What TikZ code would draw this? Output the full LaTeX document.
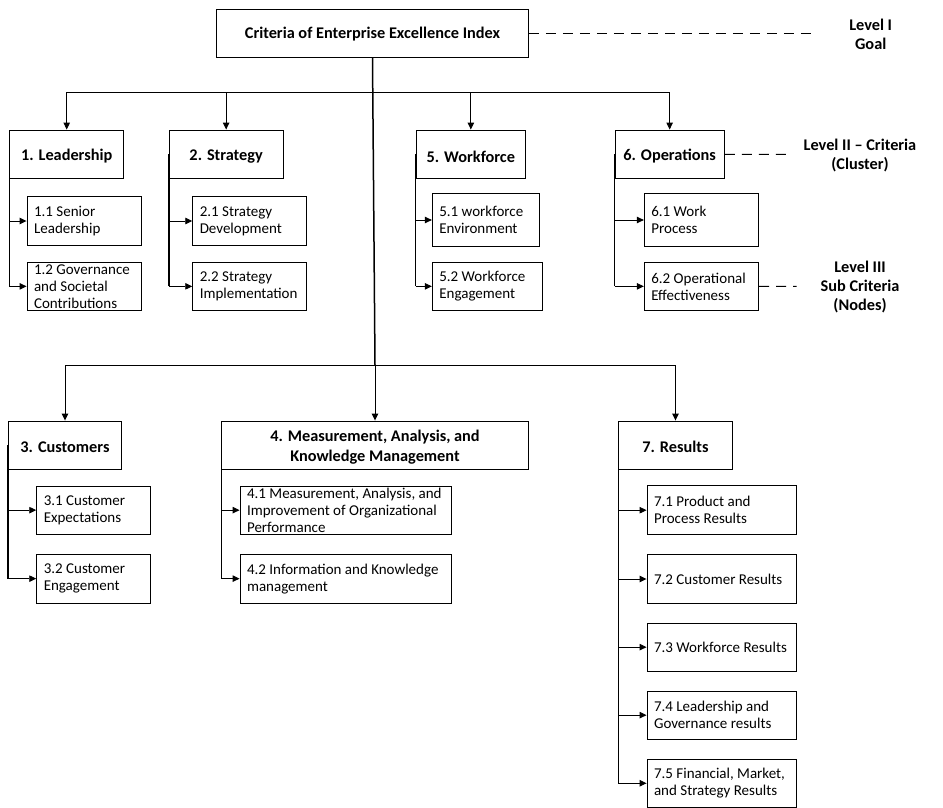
\documentclass[tikz,border=0pt]{standalone}
\usepackage{fontspec}
\setmainfont{Carlito}
\usetikzlibrary{arrows.meta}
\newcommand\mkbox[5]{\node[box, minimum width={#4-#2}, minimum height={#5-#3}] (#1) at ({(#2+#4)/2},{(#3+#5)/2}) {};}
\begin{document}
\begin{tikzpicture}[x=1pt,y=-1pt,
  box/.style={draw, line width=0.9pt, inner sep=0pt},
  lv2/.style={inner sep=0pt, align=center, font=\fontsize{16.3}{20}\selectfont\bfseries},
  lvl/.style={inner sep=0pt, align=center, font=\fontsize{16.3}{19}\selectfont\bfseries},
  sub/.style={anchor=west, inner sep=0pt, align=left, font=\fontsize{15}{17}\selectfont},
  arr/.style={line width=0.9pt, -{Triangle[length=7pt,width=6.5pt]}},
  thinline/.style={line width=0.9pt},
  spine/.style={line width=1.5pt},
  dashline/.style={line width=0.9pt, dash pattern=on 10pt off 7pt}]
\useasboundingbox (0,0) rectangle (943,808);
% boxes
\mkbox{top}{216.7}{9}{528.3}{57.3}
\mkbox{lead}{9.7}{130}{123.7}{178.7}
\mkbox{strat}{169.3}{130}{283}{178.7}
\mkbox{work}{416}{130}{525.7}{178.7}
\mkbox{ops}{615}{130}{724.3}{178.7}
\mkbox{s11}{27}{196.7}{141}{245.3}
\mkbox{s12}{27}{262}{141}{310.7}
\mkbox{s21}{192.7}{196.7}{306.3}{245.3}
\mkbox{s22}{192.7}{262}{306.3}{310.7}
\mkbox{s51}{432.3}{193.7}{539.3}{246.3}
\mkbox{s52}{432.3}{262}{542.3}{310.7}
\mkbox{s61}{644.3}{193.7}{758.7}{246.3}
\mkbox{s62}{644.3}{262}{758.7}{310.7}
\mkbox{cust}{8.3}{421}{121.7}{469.3}
\mkbox{meas}{221.7}{421}{528.3}{469.3}
\mkbox{res}{618.7}{421}{732.3}{469.3}
\mkbox{s31}{36.7}{486}{150.3}{534.3}
\mkbox{s32}{36.7}{554.3}{150.3}{603}
\mkbox{s41}{240}{486}{451.7}{534.3}
\mkbox{s42}{240}{554.3}{451.7}{603}
\mkbox{s71}{647}{485.7}{796.3}{534.7}
\mkbox{s72}{647}{554.7}{796.3}{603.3}
\mkbox{s73}{647}{623}{796.3}{671.3}
\mkbox{s74}{647}{691}{796.3}{739.3}
\mkbox{s75}{647}{759.3}{796.3}{807.2}
% texts
\node[lv2] (topT) at ([yshift=-1pt]top) {Criteria of Enterprise Excellence Index};
\node[lv2] (leadT) at ([yshift=-2pt]lead) {1. Leadership};
\node[lv2] (stratT) at ([yshift=-2pt]strat) {2. Strategy};
\node[lv2] (workT) at ([yshift=-2pt]work) {5. Workforce};
\node[lv2] (opsT) at ([yshift=-2pt]ops) {6. Operations};
\node[lv2] (custT) at ([yshift=-2pt]cust) {3. Customers};
\node[lv2] (measT) at ([yshift=-2.5pt]meas) {4. Measurement, Analysis, and\\Knowledge Management};
\node[lv2] (resT) at ([yshift=-2pt]res) {7. Results};
\node[sub] (s11T) at ([xshift=7.3pt]s11.west) {1.1 Senior\\Leadership};
\node[sub] (s12T) at ([xshift=7.3pt]s12.west) {1.2 Governance\\and Societal\\Contributions};
\node[sub] (s21T) at ([xshift=7.3pt]s21.west) {2.1 Strategy\\Development};
\node[sub] (s22T) at ([xshift=7.3pt]s22.west) {2.2 Strategy\\Implementation};
\node[sub] (s51T) at ([xshift=7.3pt]s51.west) {5.1 workforce\\Environment};
\node[sub] (s52T) at ([xshift=7.3pt]s52.west) {5.2 Workforce\\Engagement};
\node[sub] (s61T) at ([xshift=7.3pt]s61.west) {6.1 Work\\Process};
\node[sub] (s62T) at ([xshift=7.3pt]s62.west) {6.2 Operational\\Effectiveness};
\node[sub] (s31T) at ([xshift=7.3pt]s31.west) {3.1 Customer\\Expectations};
\node[sub] (s32T) at ([xshift=7.3pt]s32.west) {3.2 Customer\\Engagement};
\node[sub] (s41T) at ([xshift=7.3pt]s41.west) {4.1 Measurement, Analysis, and\\Improvement of Organizational\\Performance};
\node[sub] (s42T) at ([xshift=7.3pt]s42.west) {4.2 Information and Knowledge\\management};
\node[sub] (s71T) at ([xshift=7.3pt]s71.west) {7.1 Product and\\Process Results};
\node[sub] (s72T) at ([xshift=7.3pt]s72.west) {7.2 Customer Results};
\node[sub] (s73T) at ([xshift=7.3pt]s73.west) {7.3 Workforce Results};
\node[sub] (s74T) at ([xshift=7.3pt]s74.west) {7.4 Leadership and\\Governance results};
\node[sub] (s75T) at ([xshift=7.3pt]s75.west) {7.5 Financial, Market,\\and Strategy Results};
% level labels
\node[lvl] (lvI) at (870.7,34) {Level I\\Goal};
\node[lvl] (lvII) at (860,155.5) {Level II -- Criteria\\(Cluster)};
\node[lvl] (lvIII) at (860,287) {Level III\\Sub Criteria\\(Nodes)};
\coordinate (dI) at (813,33.15);
\coordinate (dII) at (791.7,154.35);
\coordinate (dIII) at (796.7,286.35);
\draw[dashline] (top.east) -- (dI);
\draw[dashline] (ops.east) -- (dII);
\draw[dashline] (s62.east) -- (dIII);
% trunk and bars
\coordinate (j1) at (375,92.3);
\coordinate (j2) at (375,365);
\draw[spine] (top.south) -- (j2);
\draw[thinline] (lead.north |- j1) -- (ops.north |- j1);
\draw[thinline] (cust.north |- j2) -- (res.north |- j2);
\foreach \n in {lead,strat,work,ops}{
  \draw[arr] (\n.north |- j1) -- (\n.north);
}
\foreach \n in {cust,res}{
  \draw[arr] (\n.north |- j2) -- (\n.north);
}
\draw[arr] (j2) -- (meas.north);
% spines
\draw[spine] (lead.west) -- (lead.west |- s12.west);
\draw[spine] (strat.west) -- (strat.west |- s22.west);
\draw[spine] (work.west) -- (work.west |- s52.west);
\draw[spine] (ops.west) -- (ops.west |- s62.west);
\draw[spine] (cust.west) -- (cust.west |- s32.west);
\draw[spine] (meas.west) -- (meas.west |- s42.west);
\draw[spine] (res.west) -- (res.west |- s75.west);
\foreach \p/\c in {lead/s11,lead/s12,strat/s21,strat/s22,work/s51,work/s52,ops/s61,ops/s62,cust/s31,cust/s32,meas/s41,meas/s42,res/s71,res/s72,res/s73,res/s74,res/s75}{
  \draw[arr] (\p.west |- \c.west) -- (\c.west);
}
\end{tikzpicture}
\end{document}
